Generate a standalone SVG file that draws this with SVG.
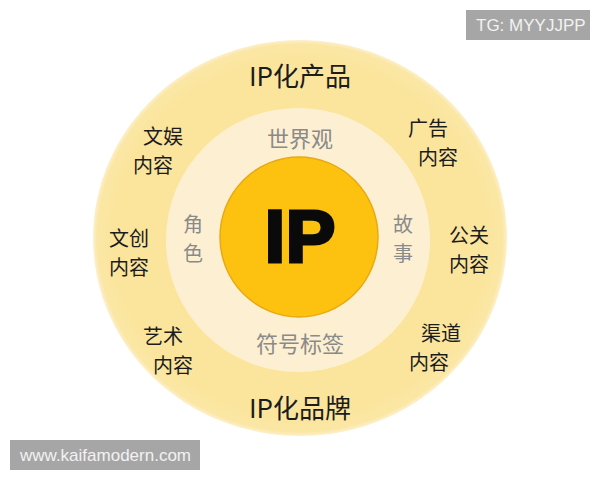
<svg xmlns="http://www.w3.org/2000/svg" width="600" height="480" viewBox="0 0 600 480">
<defs>
<style>
.lbl{font-family:"Noto Sans CJK SC","Noto Sans",sans-serif;font-size:20px;fill:#1c1c1c}
.inner{font-family:"Noto Sans CJK SC","Noto Sans",sans-serif;font-size:22px;fill:#8a8a8a;text-anchor:middle}
.inner2{font-family:"Noto Sans CJK SC","Noto Sans",sans-serif;font-size:20px;fill:#8a8a8a;text-anchor:middle}
.title{font-family:"Noto Sans CJK SC","Noto Sans",sans-serif;font-size:26px;fill:#1c1c1c;text-anchor:middle}
.wm{font-family:"Liberation Sans",Arial,sans-serif;font-size:17px;fill:#f2f2f2}
</style>
<radialGradient id="outerG" cx="0.5" cy="0.5" r="0.5">
<stop offset="0.9" stop-color="#fbe59d"/>
<stop offset="0.98" stop-color="#fbe7a5"/>
<stop offset="1" stop-color="#fdf0cc"/>
</radialGradient>
</defs>
<rect width="600" height="480" fill="#ffffff"/>
<g id="outer-ring">
<ellipse cx="300" cy="238" rx="207" ry="198" fill="url(#outerG)"/>
<text class="title" x="300" y="86">IP化产品</text>
<text class="title" x="300" y="418">IP化品牌</text>
</g>
<g id="middle-ring">
<ellipse cx="298" cy="240" rx="132" ry="132" fill="#fdf0d2"/>
</g>
<g id="core">
<ellipse cx="299" cy="237" rx="79" ry="80" fill="#fdc20f" stroke="#e8a912" stroke-width="1.5"/>
<text x="300" y="262" text-anchor="middle" font-family="Liberation Sans,Arial,sans-serif" font-weight="bold" font-size="75" fill="#0a0a0a" stroke="#0a0a0a" stroke-width="3">IP</text>
</g>
<g id="worldview"><text class="inner" x="300" y="147">世界观</text></g>
<g id="symbol-tags"><text class="inner" x="300" y="352">符号标签</text></g>
<g id="role"><text class="inner2" x="193" y="232">角</text><text class="inner2" x="193" y="261">色</text></g>
<g id="story"><text class="inner2" x="403" y="232">故</text><text class="inner2" x="403" y="261">事</text></g>
<g id="ent-content"><text class="lbl" x="143" y="144">文娱</text><text class="lbl" x="133" y="173">内容</text></g>
<g id="ad-content"><text class="lbl" x="408" y="136">广告</text><text class="lbl" x="418" y="165">内容</text></g>
<g id="creative-content"><text class="lbl" x="109" y="246">文创</text><text class="lbl" x="109" y="275">内容</text></g>
<g id="pr-content"><text class="lbl" x="449" y="243">公关</text><text class="lbl" x="449" y="272">内容</text></g>
<g id="art-content"><text class="lbl" x="143" y="344">艺术</text><text class="lbl" x="153" y="373">内容</text></g>
<g id="channel-content"><text class="lbl" x="421" y="341">渠道</text><text class="lbl" x="409" y="370">内容</text></g>
<g id="watermark-tg">
<rect x="466" y="10" width="124" height="30" fill="#a6a6a6"/>
<text class="wm" x="476" y="31">TG: MYYJJPP</text>
</g>
<g id="watermark-site">
<rect x="10" y="440" width="190" height="30" fill="#a6a6a6"/>
<text class="wm" x="20" y="461">www.kaifamodern.com</text>
</g>
</svg>
